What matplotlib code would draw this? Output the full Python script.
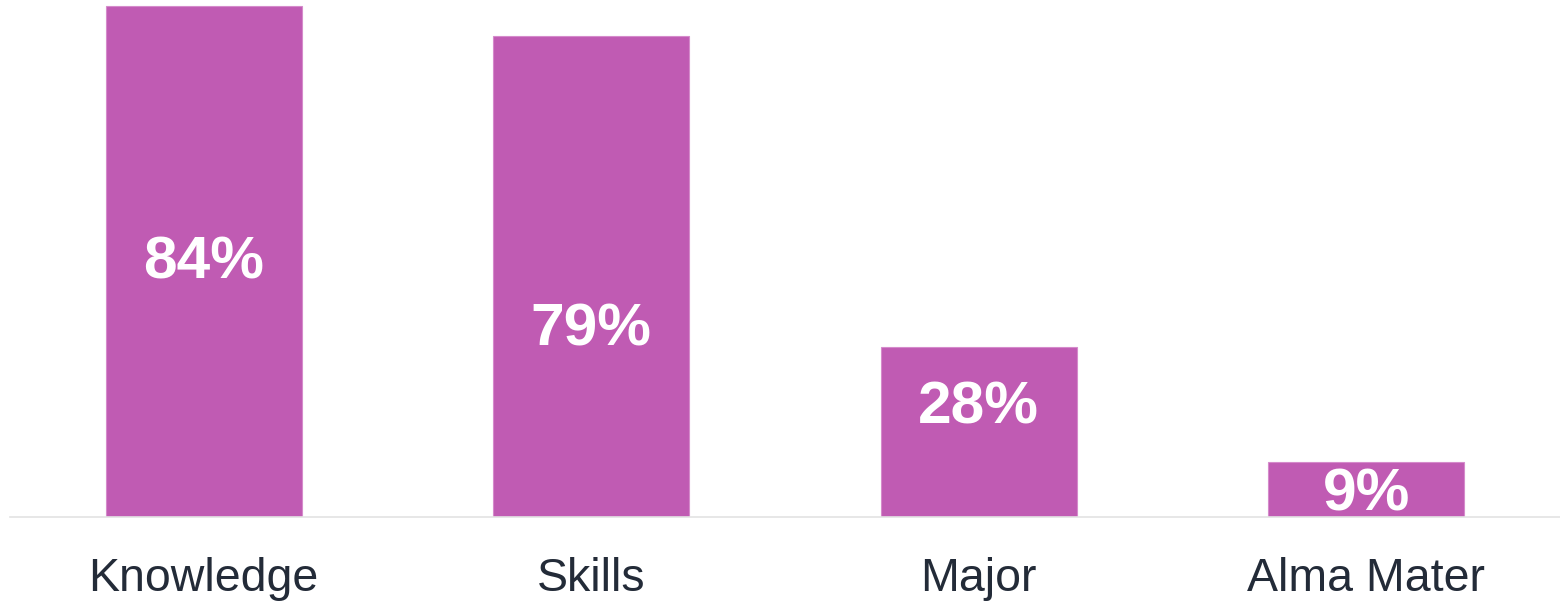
import matplotlib.pyplot as plt
import numpy as np

categories = ["Knowledge", "Skills", "Major", "Alma Mater"]
values = [84, 79, 28, 9]
# height (in %) where each value label sits inside its bar
label_y = [41.7, 30.8, 18.0, 3.6]

bar_color = "#C05BB3"
text_color = "#232B38"

fig = plt.figure(figsize=(15.6, 6.01), dpi=100)
ax = fig.add_axes([0.0064, 0.1398, 0.9936, 0.8602])

x = np.arange(len(categories))
ax.bar(x, values, width=0.505, color=bar_color, edgecolor="#D58BCB", linewidth=0.8)

for xi, v, ly in zip(x, values, label_y):
    ax.text(xi, ly, f"{v}%", ha="center", va="center", color="white",
            fontsize=43.5, fontweight="bold", family="Liberation Sans")

ax.set_xlim(-0.5, 3.5)
ax.set_ylim(0, 85)
ax.set_xticks(x)
ax.set_xticklabels(categories, fontsize=33.5, color=text_color, family="Liberation Sans")
ax.tick_params(axis="x", length=0, pad=29)
ax.set_yticks([])

for side in ["top", "right", "left"]:
    ax.spines[side].set_visible(False)
ax.spines["bottom"].set_color("#E3E3E3")
ax.spines["bottom"].set_linewidth(1.2)

plt.savefig("out.png", dpi=100)
